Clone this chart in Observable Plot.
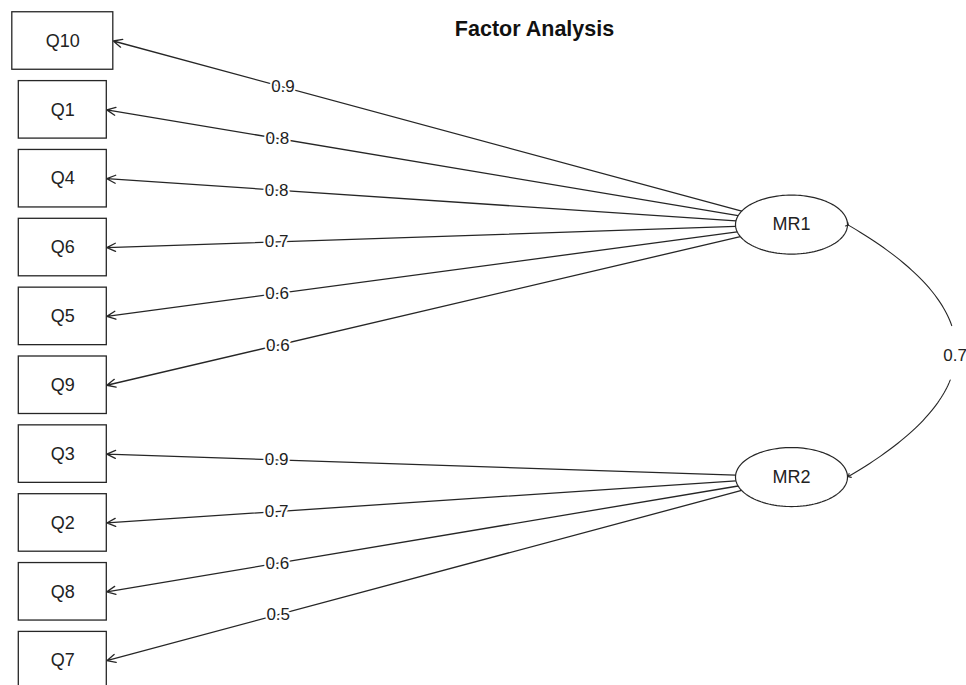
<!DOCTYPE html>
<html>
<head>
<meta charset="utf-8">
<script src="https://cdn.jsdelivr.net/npm/d3@7"></script>
<script src="https://cdn.jsdelivr.net/npm/@observablehq/plot@0.6"></script>
<style>
  html, body { margin: 0; padding: 0; background: #fff; }
  #chart svg { display: block; }
</style>
</head>
<body>
<div id="chart"></div>
<script>
// ---- data ----
const title = "Factor Analysis";
const items = ["Q10", "Q1", "Q4", "Q6", "Q5", "Q9", "Q3", "Q2", "Q8", "Q7"];
const itemFactor = ["MR1", "MR1", "MR1", "MR1", "MR1", "MR1", "MR2", "MR2", "MR2", "MR2"];
const loadings = [0.9, 0.8, 0.8, 0.7, 0.6, 0.6, 0.9, 0.7, 0.6, 0.5];
const factors = ["MR1", "MR2"];
const factorCorrelation = 0.7;

// ---- layout (psych::fa.diagram style) ----
const W = 966, H = 685;
const rowTop = 40.5, rowStep = 68.85;
const boxH = 57.5, boxCx = 62.3;
const boxW = (label) => 62 + 13 * label.length;
const nVar = items.length, nF = factors.length;
const fScale = (nVar + 1) / (nF + 1);
const unitY = (u) => rowTop + (nVar - u) * rowStep;
const factorX = 791, ellRx = 56, ellRy = 29.5;
const labelFrac = 0.27;

const itemRows = items.map((name, i) => {
  const w = boxW(name);
  const y = unitY(nVar - i);
  return { name, x: boxCx, y, x1: boxCx - w / 2, x2: boxCx + w / 2, y1: y - boxH / 2, y2: y + boxH / 2 };
});
const factorRows = factors.map((name, f) => ({ name, x: factorX, y: unitY((nF - f) * fScale) }));
const fByName = Object.fromEntries(factorRows.map((d) => [d.name, d]));

const edges = items.map((name, i) => {
  const b = itemRows[i], f = fByName[itemFactor[i]];
  const bx = b.x2, by = b.y;
  const dx = bx - f.x, dy = by - f.y;
  const t = 1 / Math.sqrt((dx / ellRx) ** 2 + (dy / ellRy) ** 2);
  const sx = f.x + t * dx, sy = f.y + t * dy;
  return {
    sx, sy, bx, by,
    lx: bx + labelFrac * (sx - bx), ly: by + labelFrac * (sy - by),
    label: loadings[i].toFixed(1)
  };
});

const ellipsePts = factorRows.flatMap((f) =>
  d3.range(0, 361, 3).map((a) => ({
    f: f.name,
    x: f.x + ellRx * Math.cos((a * Math.PI) / 180),
    y: f.y + ellRy * Math.sin((a * Math.PI) / 180)
  }))
);

// curved correlation arrow between factors (quadratic Bézier)
const p0 = { x: factorRows[0].x + ellRx, y: factorRows[0].y };
const p2 = { x: factorRows[1].x + ellRx, y: factorRows[1].y };
const p1 = { x: p0.x + 0.86 * (p2.y - p0.y), y: (p0.y + p2.y) / 2 };
const bez = (t) => ({
  t,
  x: (1 - t) ** 2 * p0.x + 2 * t * (1 - t) * p1.x + t * t * p2.x,
  y: (1 - t) ** 2 * p0.y + 2 * t * (1 - t) * p1.y + t * t * p2.y
});
const curveUpper = d3.range(0, 0.4081, 0.01).map(bez);
const curveLower = d3.range(0.616, 1.0001, 0.01).map(bez);
const curveMid = [{ ...bez(0.5), label: factorCorrelation.toFixed(1) }];

const ink = "#262626";
const chart = Plot.plot({
  width: W,
  height: H,
  margin: 0,
  style: { fontFamily: "'Liberation Sans', Arial, sans-serif", background: "#fff" },
  x: { domain: [0, W], range: [0, W], axis: null },
  y: { domain: [0, H], range: [0, H], axis: null },
  marks: [
    Plot.text([title], { text: (d) => d, frameAnchor: "top", dx: 51, dy: 35, fontSize: 21.5, fontWeight: "bold", fill: "#111", lineAnchor: "bottom" }),
    Plot.arrow(edges, { x1: "sx", y1: "sy", x2: "bx", y2: "by", stroke: ink, strokeWidth: 1.3, headLength: 11, headAngle: 50 }),
    Plot.text(edges, { x: "lx", y: "ly", text: "label", fontSize: 17, fill: "#222", stroke: "white", strokeWidth: 4 }),
    Plot.rect(itemRows, { x1: "x1", x2: "x2", y1: "y1", y2: "y2", fill: "white", stroke: ink, strokeWidth: 1.3 }),
    Plot.text(itemRows, { x: "x", y: "y", text: "name", fontSize: 18, fill: "#222" }),
    Plot.line(ellipsePts, { x: "x", y: "y", z: "f", stroke: ink, strokeWidth: 1.2, fill: "white" }),
    Plot.text(factorRows, { x: "x", y: "y", text: "name", fontSize: 18, fill: "#222" }),
    Plot.line(curveUpper, { x: "x", y: "y", stroke: ink, strokeWidth: 1.1, markerStart: "arrow" }),
    Plot.line(curveLower, { x: "x", y: "y", stroke: ink, strokeWidth: 1.1, markerEnd: "arrow" }),
    Plot.text(curveMid, { x: "x", y: "y", text: "label", fontSize: 17, fill: "#222", dx: -1, dy: 5 })
  ]
});
document.getElementById("chart").append(chart);
</script>
</body>
</html>
